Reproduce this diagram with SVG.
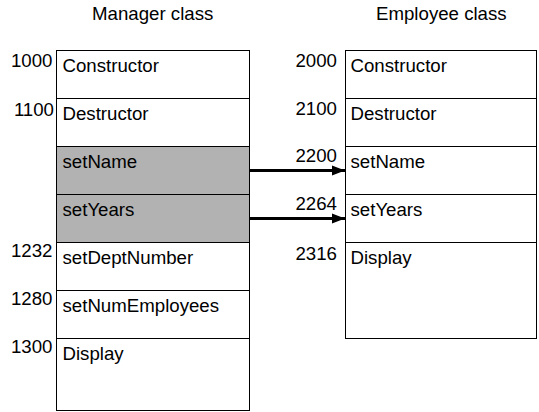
<svg xmlns="http://www.w3.org/2000/svg" width="539" height="412" viewBox="0 0 539 412">
<style>
text{font-family:"Liberation Sans",Arial,sans-serif;font-size:18.67px;fill:#000}
.num{text-anchor:end}
.cell{fill:#fff;stroke:#000;stroke-width:1}
.hl{fill:#b2b2b2;stroke:#000;stroke-width:1}
.conn{stroke:#000;stroke-width:3;fill:none}
</style>
<defs>
<marker id="ah" markerUnits="userSpaceOnUse" markerWidth="14" markerHeight="12" refX="13" refY="6" orient="auto">
<path d="M0,1 L13,6 L0,11 Z" fill="#000"/>
</marker>
</defs>
<rect width="539" height="412" fill="#fff"/>
<text x="92" y="20">Manager class</text>
<text x="376" y="20">Employee class</text>
<g id="manager">
<g id="m-constructor"><rect class="cell" x="56.5" y="50.5" width="193" height="48"/><text x="62.5" y="72">Constructor</text><text class="num" x="52.5" y="67">1000</text></g>
<g id="m-destructor"><rect class="cell" x="56.5" y="98.5" width="193" height="48"/><text x="62.5" y="120">Destructor</text><text class="num" x="54" y="116">1100</text></g>
<g id="m-setname"><rect class="hl" x="56.5" y="146.5" width="193" height="48"/><text x="62.5" y="168">setName</text></g>
<g id="m-setyears"><rect class="hl" x="56.5" y="194.5" width="193" height="48"/><text x="62.5" y="216">setYears</text></g>
<g id="m-setdept"><rect class="cell" x="56.5" y="242.5" width="193" height="48"/><text x="62.5" y="264">setDeptNumber</text><text class="num" x="52.5" y="257">1232</text></g>
<g id="m-setnum"><rect class="cell" x="56.5" y="290.5" width="193" height="48"/><text x="62.5" y="312">setNumEmployees</text><text class="num" x="52.5" y="305">1280</text></g>
<g id="m-display"><rect class="cell" x="56.5" y="338.5" width="193" height="72"/><text x="62.5" y="360">Display</text><text class="num" x="52.5" y="353">1300</text></g>
</g>
<g id="employee">
<g id="e-constructor"><rect class="cell" x="345.5" y="50.5" width="191" height="48"/><text x="350.5" y="72">Constructor</text><text class="num" x="337" y="67">2000</text></g>
<g id="e-destructor"><rect class="cell" x="345.5" y="98.5" width="191" height="48"/><text x="350.5" y="120">Destructor</text><text class="num" x="337" y="115">2100</text></g>
<g id="e-setname"><rect class="cell" x="345.5" y="146.5" width="191" height="48"/><text x="350.5" y="168">setName</text><text class="num" x="337" y="162">2200</text></g>
<g id="e-setyears"><rect class="cell" x="345.5" y="194.5" width="191" height="48"/><text x="350.5" y="216">setYears</text><text class="num" x="337" y="210">2264</text></g>
<g id="e-display"><rect class="cell" x="345.5" y="242.5" width="191" height="96"/><text x="350.5" y="264">Display</text><text class="num" x="337" y="260">2316</text></g>
</g>
<g id="connectors">
<line class="conn" x1="249" y1="170.5" x2="345" y2="170.5" marker-end="url(#ah)"/>
<line class="conn" x1="249" y1="218.5" x2="345" y2="218.5" marker-end="url(#ah)"/>
</g>
</svg>
